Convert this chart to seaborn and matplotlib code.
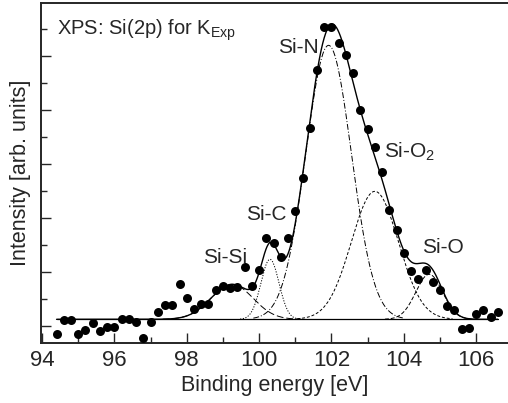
import numpy as np
import pandas as pd
import seaborn as sns
import matplotlib
matplotlib.use("Agg")
import matplotlib.pyplot as plt
from matplotlib.ticker import MultipleLocator

# Measured Si(2p) spectrum
energy = [94.4, 94.6, 94.8, 95.0, 95.2, 95.4, 95.6, 95.8, 96.0, 96.2,
          96.4, 96.6, 96.8, 97.0, 97.2, 97.4, 97.6, 97.8, 98.0, 98.2,
          98.4, 98.6, 98.8, 99.0, 99.2, 99.4, 99.6, 99.8, 100.0, 100.2,
          100.4, 100.6, 100.8, 101.0, 101.2, 101.4, 101.6, 101.8, 102.0, 102.2,
          102.4, 102.6, 102.8, 103.0, 103.2, 103.4, 103.6, 103.8, 104.0, 104.2,
          104.4, 104.6, 104.8, 105.0, 105.2, 105.4, 105.6, 105.8, 106.0, 106.2,
          106.4, 106.6]
intensity = [843, 1111, 1111, 852, 935, 1061, 902, 987, 981, 1139,
             1130, 1083, 772, 1074, 1254, 1398, 1398, 1772, 1513, 1315,
             1402, 1402, 1667, 1741, 1713, 1722, 2093, 1741, 2046, 2639,
             2546, 2272, 2624, 3121, 3735, 4676, 5732, 6532, 6532, 6247,
             6024, 5691, 5000, 4648, 4310, 3852, 3143, 2783, 2357, 2028,
             1865, 2032, 1820, 1672, 1376, 1296, 948, 972, 1228, 1296,
             1167, 1265]

# Fitted Gaussian components on a constant background
background = 1124
comp_names = ["Si-Si", "Si-C", "Si-N", "Si-O$_2$", "Si-O"]
comp_center = [99.25, 100.3, 101.92, 103.2, 104.7]
comp_height = [648, 1111, 5074, 2370, 833]
comp_sigma = [0.58, 0.25, 0.63, 0.65, 0.37]
comp_style = [(0, (7, 3)), (0, (1.2, 1.6)), (0, (6, 2, 1, 2)), (0, (3, 2)), (0, (4, 2))]

# Peak label positions (energy, intensity)
label_x = [99.06, 100.19, 101.08, 104.17, 105.09]
label_y = [2278, 3056, 6149, 4222, 2463]

plt.rcParams["font.family"] = ["Liberation Sans", "DejaVu Sans"]
sns.set_style("ticks")
plt.rcParams["font.family"] = ["Liberation Sans", "DejaVu Sans"]
plt.rcParams["mathtext.fontset"] = "custom"
plt.rcParams["mathtext.rm"] = "Liberation Sans"

fig = plt.figure(figsize=(5.08, 4.03), dpi=100)
ax = fig.add_axes([41 / 508, 60.3 / 403, 1 - 41 / 508, 339.7 / 403])

def gauss(x, c, h, s):
    return h * np.exp(-((x - c) ** 2) / (2 * s ** 2))

xs = np.linspace(94.4, 106.6, 1200)

# background line
sns.lineplot(x=[energy[0], energy[-1]], y=[background, background], ax=ax,
             color="black", lw=0.9, estimator=None)

# individual components
for c, h, s, ls in zip(comp_center, comp_height, comp_sigma, comp_style):
    xc = np.linspace(c - 3.3 * s, c + 3.3 * s, 300)
    ax.plot(xc, background + gauss(xc, c, h, s), color="black", lw=0.7, linestyle=ls)

# envelope
total = background + sum(gauss(xs, c, h, s) for c, h, s in zip(comp_center, comp_height, comp_sigma))
sns.lineplot(x=xs, y=total, ax=ax, color="black", lw=1.0, estimator=None)

# data points
df = pd.DataFrame({"energy": energy, "intensity": intensity})
sns.scatterplot(data=df, x="energy", y="intensity", ax=ax, color="black",
                s=42, edgecolor="black", linewidth=0, zorder=5)

for name, lx, ly in zip(comp_names, label_x, label_y):
    ax.text(lx, ly, name, fontsize=15, ha="center", va="center")

ax.text(94.41, 6482, "XPS: Si(2p) for K$_{\\mathrm{Exp}}$", fontsize=14.5, ha="left", va="center")

ax.set_xlim(93.97, 106.88)
ax.set_ylim(691, 6982)
ax.xaxis.set_major_locator(MultipleLocator(2))
ax.xaxis.set_minor_locator(MultipleLocator(1))
ax.yaxis.set_major_locator(MultipleLocator(1000))
ax.yaxis.set_minor_locator(MultipleLocator(500))
ax.tick_params(which="major", direction="in", length=7, width=1.0, labelsize=16, top=False, right=False, pad=5)
ax.tick_params(which="minor", direction="in", length=4, width=1.0, top=False, right=False)
ax.tick_params(axis="y", which="both", labelleft=False)
ax.spines["right"].set_visible(False)
for sp in ["left", "top", "bottom"]:
    ax.spines[sp].set_linewidth(1.4)
ax.set_xlabel("Binding energy [eV]", fontsize=15.5, labelpad=3)
ax.set_ylabel("Intensity [arb. units]", fontsize=15.5, labelpad=7)

fig.savefig("out.png", dpi=100)
